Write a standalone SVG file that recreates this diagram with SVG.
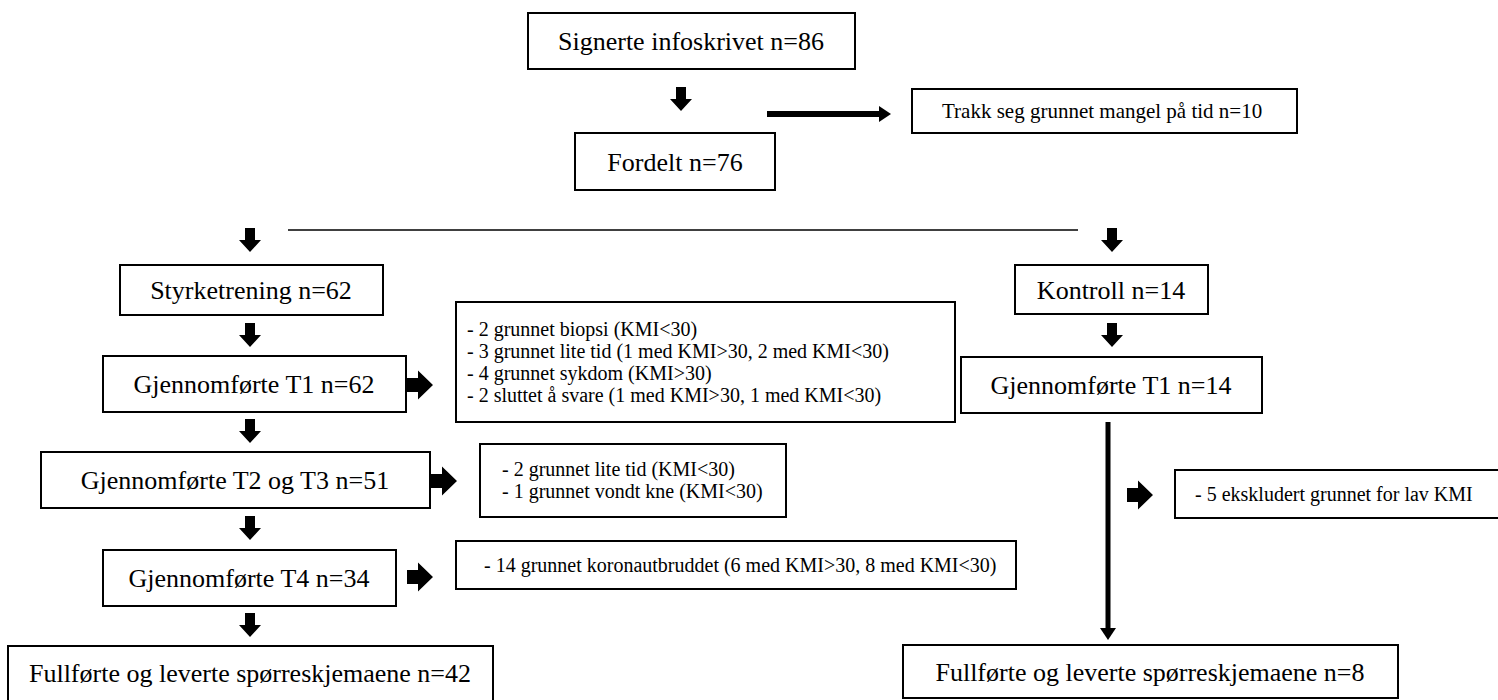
<svg xmlns="http://www.w3.org/2000/svg" xmlns:xlink="http://www.w3.org/1999/xlink" width="1498" height="700" viewBox="0 0 1498 700">
<style>
.box{fill:#fff;stroke:#000;stroke-width:2}
.t{font-family:"Liberation Serif","Times New Roman",serif;font-size:26px;fill:#000;text-anchor:middle}
.s{font-family:"Liberation Serif","Times New Roman",serif;font-size:20px;fill:#000}
.ar{fill:#000}
</style>
<defs>
<path id="dn" d="M-5,0 H5 V12 H11 L0,24 L-11,12 H-5 Z"/>
<path id="rt" d="M0,-7 H11 V-14.5 L26,0 L11,14.5 V7 H0 Z"/>
</defs>
<rect width="1498" height="700" fill="#fff"/>
<g id="connectors" class="ar">
<use xlink:href="#dn" x="681" y="87"/>
<line x1="767" y1="114" x2="882" y2="114" stroke="#000" stroke-width="6"/>
<polygon points="879,106 891,114 879,122"/>
<line x1="288" y1="230" x2="1078" y2="230" stroke="#000" stroke-width="1.5"/>
<use xlink:href="#dn" x="250" y="228"/>
<use xlink:href="#dn" x="1112" y="228"/>
<use xlink:href="#dn" x="250" y="323"/>
<use xlink:href="#dn" x="1112" y="323"/>
<use xlink:href="#rt" x="407" y="385"/>
<use xlink:href="#dn" x="250" y="419"/>
<use xlink:href="#rt" x="431" y="481"/>
<use xlink:href="#dn" x="250" y="516"/>
<use xlink:href="#rt" x="407" y="577"/>
<use xlink:href="#dn" x="250" y="613"/>
<line x1="1108" y1="422" x2="1108" y2="630" stroke="#000" stroke-width="5"/>
<polygon points="1100,628 1116,628 1108,640"/>
<use xlink:href="#rt" x="1127" y="495"/>
</g>
<g id="n_signerte"><rect class="box" x="528" y="13" width="327" height="56"/><text class="t" x="691" y="50">Signerte infoskrivet n=86</text></g>
<g id="n_trakk"><rect class="box" x="912" y="89" width="385" height="44"/><text class="s" x="942" y="118" style="font-size:21px">Trakk seg grunnet mangel på tid n=10</text></g>
<g id="n_fordelt"><rect class="box" x="575" y="133" width="200" height="57"/><text class="t" x="675" y="171">Fordelt n=76</text></g>
<g id="n_styrke"><rect class="box" x="120" y="265" width="263" height="50"/><text class="t" x="251" y="299">Styrketrening n=62</text></g>
<g id="n_kontroll"><rect class="box" x="1015" y="265" width="193" height="49"/><text class="t" x="1111" y="299">Kontroll n=14</text></g>
<g id="n_t1"><rect class="box" x="103" y="356" width="303" height="56"/><text class="t" x="254" y="393">Gjennomførte T1 n=62</text></g>
<g id="n_drop1"><rect class="box" x="456" y="302" width="499" height="120"/>
<text class="s" x="467" y="336">- 2 grunnet biopsi (KMI&lt;30)</text>
<text class="s" x="467" y="358">- 3 grunnet lite tid (1 med KMI&gt;30, 2 med KMI&lt;30)</text>
<text class="s" x="467" y="380">- 4 grunnet sykdom (KMI&gt;30)</text>
<text class="s" x="467" y="402">- 2 sluttet å svare (1 med KMI&gt;30, 1 med KMI&lt;30)</text></g>
<g id="n_kt1"><rect class="box" x="961" y="357" width="301" height="56"/><text class="t" x="1111" y="394">Gjennomførte T1 n=14</text></g>
<g id="n_t23"><rect class="box" x="41" y="452" width="389" height="56"/><text class="t" x="235" y="489">Gjennomførte T2 og T3 n=51</text></g>
<g id="n_drop2"><rect class="box" x="480" y="444" width="306" height="73"/>
<text class="s" x="502" y="476">- 2 grunnet lite tid (KMI&lt;30)</text>
<text class="s" x="502" y="498">- 1 grunnet vondt kne (KMI&lt;30)</text></g>
<g id="n_drop_k"><rect class="box" x="1175" y="470" width="330" height="48"/><text class="s" x="1195" y="501">- 5 ekskludert grunnet for lav KMI</text></g>
<g id="n_t4"><rect class="box" x="103" y="550" width="293" height="56"/><text class="t" x="249" y="587">Gjennomførte T4 n=34</text></g>
<g id="n_drop3"><rect class="box" x="456" y="541" width="560" height="48"/><text class="s" x="484" y="572">- 14 grunnet koronautbruddet (6 med KMI&gt;30, 8 med KMI&lt;30)</text></g>
<g id="n_full_l"><rect class="box" x="8" y="646" width="485" height="56"/><text class="t" x="250" y="682">Fullførte og leverte spørreskjemaene n=42</text></g>
<g id="n_full_r"><rect class="box" x="903" y="645" width="495" height="53"/><text class="t" x="1150" y="681">Fullførte og leverte spørreskjemaene n=8</text></g>
</svg>
